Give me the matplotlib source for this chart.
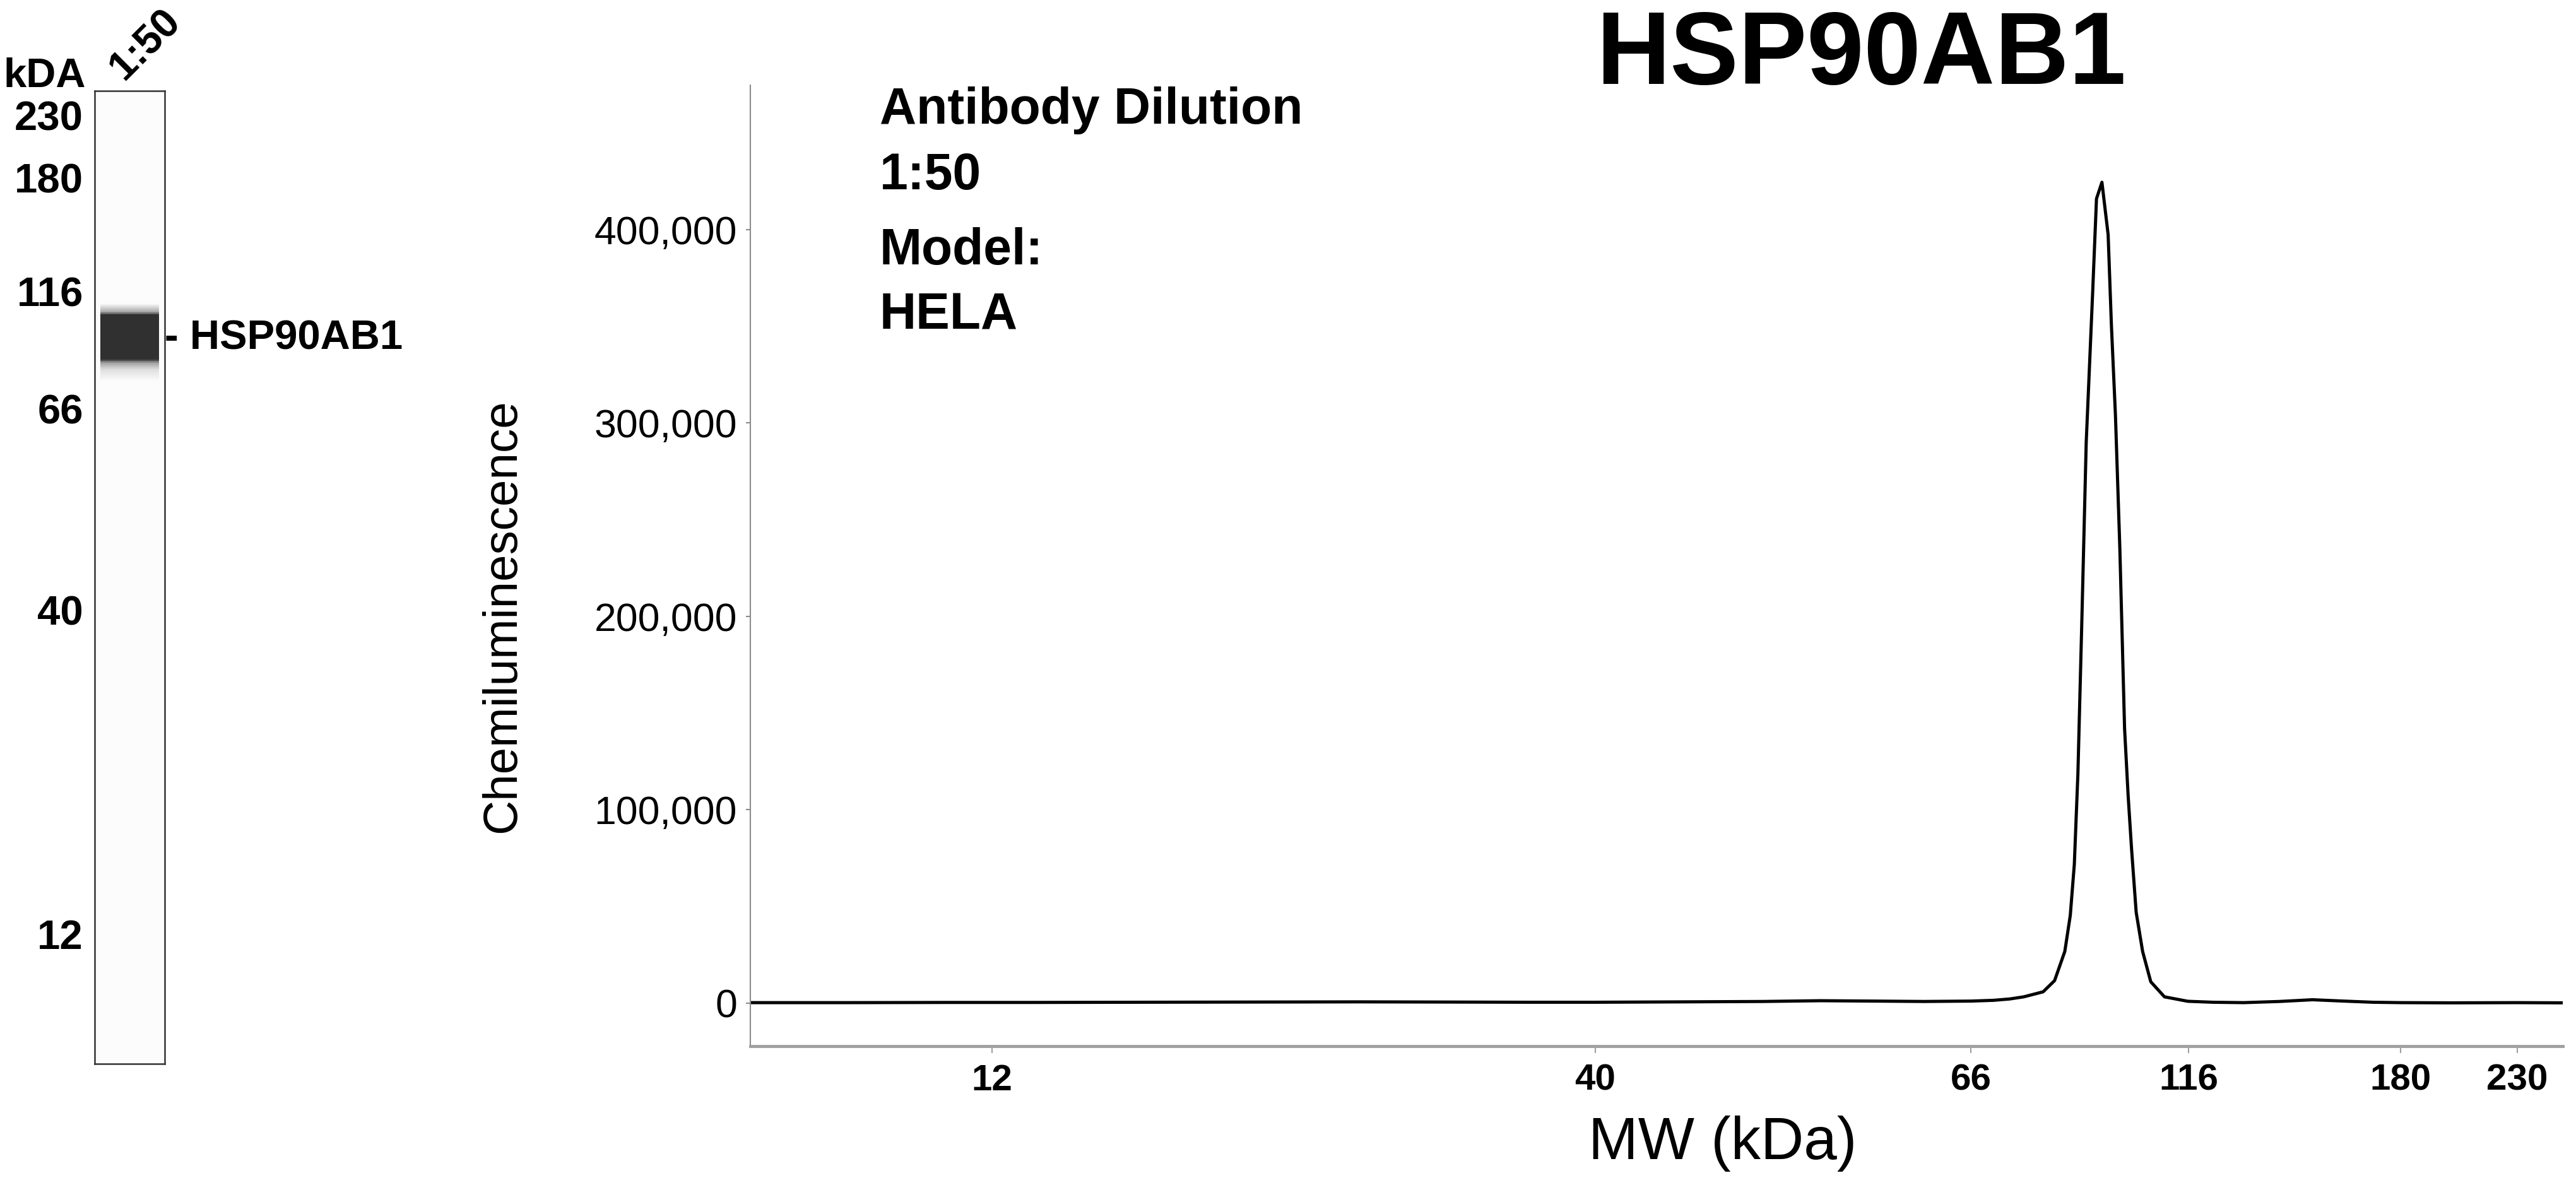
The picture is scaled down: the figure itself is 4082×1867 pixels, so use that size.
import numpy as np
import matplotlib
matplotlib.use("Agg")
import matplotlib.pyplot as plt
from matplotlib.ticker import FuncFormatter

plt.rcParams['font.family'] = ['Liberation Sans', 'DejaVu Sans']

# size ladder the instrument uses to place MW along the axis (axis fraction)
ladder_kda = [12, 40, 66, 116, 180, 230]
ladder_pos = [0.1334, 0.4662, 0.6734, 0.7935, 0.9105, 0.9749]

# electropherogram trace
mw = [7.4, 9, 11, 13, 16, 20, 25, 30, 35, 40, 45, 50, 54, 58, 62, 66, 70, 73,
      75.7, 79.6, 82.0, 84.2, 85.4, 86.3, 87.1, 88.0, 89.0, 90.5, 91.4, 92.7,
      94.2, 95.0, 96.0, 97.1, 98.3, 99.2, 100.1, 101.3, 103.0, 105.2, 109.0,
      115.8, 122, 130, 140, 150, 160, 170, 180, 200, 230, 253]
signal = [300, 300, 400, 400, 500, 600, 700, 600, 500, 500, 700, 900, 1300,
          1100, 900, 1100, 1500, 2200,
          3300, 5900, 11700, 26800, 45400, 71800, 118400, 198000, 290000,
          367700, 416000, 424500,
          397400, 350700, 304100, 235200, 142000, 107700, 79600, 47000, 26800,
          11100, 3300,
          1000, 500, 300, 900, 1800, 1100, 500, 300, 200, 300, 200]

yticks = [0, 100000, 200000, 300000, 400000]
lane_label = "1:50"
target = "HSP90AB1"
info_lines = ["Antibody Dilution", "1:50", "Model:", "HELA"]

W, H = 4082, 1867


def fx(px):
    return px / W


def fy(py):
    return 1 - py / H


lk = np.log(ladder_kda)
lp = np.array(ladder_pos)
s0 = (lp[1] - lp[0]) / (lk[1] - lk[0])
s1 = (lp[-1] - lp[-2]) / (lk[-1] - lk[-2])


def fwd(x):
    x = np.log(np.clip(np.asarray(x, float), 1e-3, None))
    out = np.interp(x, lk, lp)
    out = np.where(x < lk[0], lp[0] + (x - lk[0]) * s0, out)
    out = np.where(x > lk[-1], lp[-1] + (x - lk[-1]) * s1, out)
    return out


def inv(p):
    p = np.asarray(p, float)
    out = np.interp(p, lp, lk)
    out = np.where(p < lp[0], lk[0] + (p - lp[0]) / s0, out)
    out = np.where(p > lp[-1], lk[-1] + (p - lp[-1]) / s1, out)
    return np.exp(out)


kda_lo, kda_hi = float(inv(0.0)), float(inv(1.0))

fig = plt.figure(figsize=(W / 100, H / 100), dpi=100)

# ---- main trace
ax = fig.add_axes([fx(1189), fy(1658), fx(4061) - fx(1189), fy(135) - fy(1658)])
ax.plot(mw, signal, color='black', lw=3.6)
ax.set_xscale('function', functions=(fwd, inv))
ax.set_xlim(kda_lo, kda_hi)
ax.set_ylim(-22190, 474700)
ax.spines['top'].set_visible(False)
ax.spines['right'].set_visible(False)
ax.spines['left'].set_color('#8c8c8c')
ax.spines['left'].set_linewidth(1.5)
ax.spines['bottom'].set_color('#a0a0a0')
ax.spines['bottom'].set_linewidth(3.5)
ax.set_xticks(ladder_kda)
ax.set_xticklabels([str(v) for v in ladder_kda], fontsize=42, fontweight='bold')
ax.xaxis.set_minor_locator(matplotlib.ticker.NullLocator())
ax.set_yticks(yticks)
ax.yaxis.set_major_formatter(FuncFormatter(lambda v, p: f"{int(v):,}"))
ax.tick_params(axis='y', labelsize=45, length=5, width=1.5, color='#8c8c8c', pad=10)
ax.tick_params(axis='x', length=8, width=1.5, color='#a0a0a0', pad=12)

fig.text(fx(797), fy(976), "Chemiluminescence", rotation=90, fontsize=55,
         ha='center', va='center')
fig.text(fx(2730), fy(1812), "MW (kDa)", fontsize=68, ha='center', va='center')
fig.text(fx(2949), fy(133), target, fontsize=117, fontweight='bold',
         ha='center', va='baseline')

for line, base in zip(info_lines, [196, 300, 419, 522]):
    fig.text(fx(1394), fy(base), line, fontsize=58, fontweight='bold',
             ha='left', va='baseline')

# ---- virtual blot lane
lane = fig.add_axes([fx(150), fy(1686), fx(261) - fx(150), fy(144) - fy(1686)])
lane.set_yscale('function', functions=(fwd, inv))
lane.set_ylim(kda_lo, kda_hi)
lane.set_xlim(0, 1)
lane.set_facecolor('#fbfbfb')
ygrid = np.geomspace(kda_lo, kda_hi, 800)
dens = np.interp(ygrid, mw, signal)
shade = 0.985 - 0.795 * np.clip((dens - 3000) / 20000, 0, 1)
lane.pcolormesh([0.08, 0.92], ygrid, shade[:-1, None], cmap='gray',
                vmin=0, vmax=1, shading='flat')
for sp in lane.spines.values():
    sp.set_color('#333333')
    sp.set_linewidth(1.8)
lane.set_xticks([])
lane.set_yticks(ladder_kda)
lane.set_yticklabels([str(v) for v in ladder_kda], fontsize=47, fontweight='bold')
lane.yaxis.set_minor_locator(matplotlib.ticker.NullLocator())
lane.tick_params(axis='y', length=0, pad=13)

fig.text(fx(5), fy(138), "kDA", fontsize=47, fontweight='bold', ha='left', va='baseline')
fig.text(fx(231), fy(70), lane_label, fontsize=47, fontweight='bold', rotation=45,
         ha='center', va='center')
band_kda = mw[int(np.argmax(signal))]
lane.annotate("- " + target, xy=(1.0, band_kda), xycoords=('axes fraction', 'data'),
              xytext=(1.0, band_kda), fontsize=47, fontweight='bold',
              ha='left', va='center', annotation_clip=False)

fig.savefig("out.png", dpi=100)
